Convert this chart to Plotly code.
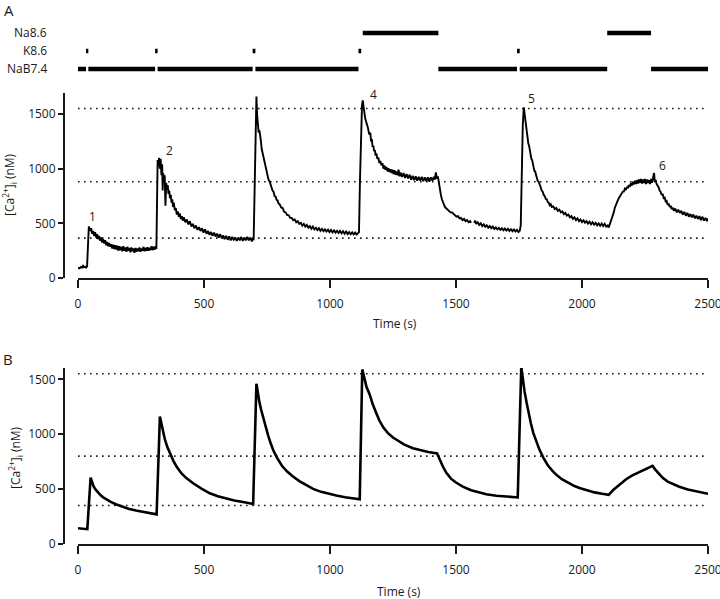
import plotly.graph_objects as go

# ---- data ----
# measured trace, panel A: (time s, [Ca2+]i nM); None = gap in the recording
trace_a = [
    (0, 95), (6, 88), (12, 102), (16, 96), (20, 112), (24, 98), (28, 104), (32, 95), (36, 106),
    (40, 300), (43, 472),
    (48, 430), (52, 455), (56, 405), (60, 430), (64, 385), (68, 420), (72, 370), (76, 400), (80, 355),
    (84, 385), (88, 340), (92, 370), (96, 325), (100, 355), (104, 315), (108, 345), (112, 300), (116, 330),
    (120, 290), (124, 320), (128, 285), (132, 310), (136, 270), (140, 305), (144, 265), (148, 300),
    (152, 260), (156, 295), (160, 250), (164, 290), (168, 255), (172, 285), (176, 245), (180, 290),
    (184, 250), (188, 280), (192, 240), (196, 285), (200, 250), (204, 275), (208, 235), (212, 280),
    (216, 245), (220, 270), (224, 230), (228, 275), (232, 240), (236, 270), (240, 245), (244, 280),
    (248, 240), (252, 270), (256, 250), (260, 285), (264, 245), (268, 275), (272, 250), (276, 280),
    (280, 250), (284, 275), (288, 255), (292, 290), (296, 255), (300, 285), (304, 260), (308, 290), (311, 265),
    (314, 700), (316, 1080), (319, 1020), (322, 1100), (325, 1000), (328, 1090), (331, 940), (334, 1040),
    (336, 800), (338, 960), (341, 900), (344, 940), (347, 660), (350, 870), (353, 810), (356, 850),
    (359, 770), (362, 800), (365, 730), (368, 760), (371, 690), (374, 720), (377, 650), (380, 690),
    (384, 620), (388, 640), (392, 580), (396, 610), (400, 560), (404, 590), (408, 540), (412, 565),
    (416, 525), (420, 555), (426, 510), (432, 535), (438, 490), (444, 520), (450, 470), (456, 495),
    (462, 455), (468, 480), (474, 440), (480, 465), (486, 430), (492, 455), (498, 415), (504, 445),
    (510, 405), (516, 430), (522, 395), (528, 420), (534, 385), (540, 415), (546, 380), (552, 405),
    (558, 370), (564, 400), (570, 365), (576, 390), (582, 355), (588, 385), (594, 350), (600, 380),
    (606, 345), (612, 375), (618, 350), (624, 370), (630, 340), (636, 370), (642, 345), (648, 375),
    (654, 340), (660, 370), (666, 345), (672, 375), (678, 345), (684, 370), (690, 335), (694, 365), (697, 345),
    (700, 700), (703, 1300), (706, 1560), (708, 1660), (711, 1480), (714, 1420), (717, 1330), (720, 1350),
    (723, 1260), (726, 1250), (729, 1180), (732, 1150), (736, 1095), (740, 1050), (744, 1010), (748, 960),
    (752, 945), (756, 900), (760, 885), (764, 850), (768, 840), (772, 800), (776, 790), (780, 750),
    (784, 745), (788, 715), (792, 710), (796, 680), (800, 675), (806, 645), (812, 640), (818, 605),
    (824, 600), (830, 575), (836, 575), (842, 550), (848, 550), (854, 530), (860, 535), (866, 510),
    (872, 520), (878, 495), (884, 505), (890, 480), (896, 495), (902, 470), (908, 485), (914, 460),
    (920, 475), (926, 450), (932, 470), (938, 445), (944, 460), (950, 438), (956, 455), (962, 432),
    (968, 450), (974, 428), (980, 445), (986, 425), (992, 442), (998, 420), (1004, 440), (1010, 418),
    (1016, 435), (1022, 415), (1028, 432), (1034, 412), (1040, 430), (1046, 408), (1052, 428), (1058, 405),
    (1064, 425), (1070, 402), (1076, 420), (1082, 400), (1088, 418), (1094, 398), (1100, 415), (1106, 398), (1112, 412),
    (1115, 420), (1119, 900), (1123, 1400), (1127, 1580), (1130, 1625), (1133, 1560), (1136, 1520),
    (1139, 1470), (1142, 1440), (1145, 1420), (1148, 1390), (1151, 1370), (1154, 1330), (1157, 1310),
    (1160, 1330), (1163, 1250), (1166, 1270), (1169, 1200), (1172, 1210), (1175, 1160), (1178, 1170),
    (1181, 1120), (1184, 1140), (1188, 1090), (1192, 1100), (1196, 1050), (1200, 1070), (1204, 1030),
    (1208, 1050), (1212, 1000), (1216, 1030), (1220, 990), (1224, 1015), (1228, 975), (1232, 1005),
    (1236, 970), (1240, 995), (1244, 960), (1248, 990), (1252, 950), (1256, 985), (1260, 945), (1264, 975),
    (1268, 940), (1272, 990), (1276, 930), (1280, 965), (1286, 925), (1292, 960), (1298, 915), (1304, 950),
    (1310, 910), (1316, 945), (1322, 900), (1328, 935), (1334, 895), (1340, 930), (1346, 890), (1352, 925),
    (1358, 890), (1364, 925), (1370, 885), (1376, 920), (1382, 885), (1388, 920), (1394, 880), (1400, 920),
    (1406, 890), (1412, 925), (1416, 900), (1420, 965), (1424, 910), (1428, 930),
    (1432, 860), (1436, 800), (1440, 760), (1444, 720), (1448, 690), (1452, 670), (1456, 650), (1460, 640),
    (1466, 625), (1472, 615), (1478, 600), (1484, 600), (1490, 585), (1496, 580), (1502, 560), (1508, 565),
    (1514, 545), (1520, 550), (1526, 530), (1532, 540), (1538, 520), (1544, 530), (1550, 510), (1556, 520),
    (1560, 505), (1566, None),
    (1572, 505), (1576, 525), (1580, 495), (1586, 510), (1592, 485), (1598, 500), (1604, 475), (1610, 490),
    (1616, 468), (1622, 482), (1628, 460), (1634, 475), (1640, 455), (1646, 470), (1652, 448), (1658, 462),
    (1664, 445), (1670, 458), (1676, 440), (1682, 455), (1688, 436), (1694, 452), (1700, 434), (1706, 450),
    (1712, 430), (1718, 446), (1724, 428), (1730, 444), (1736, 425), (1742, 440), (1748, 420), (1753, 432),
    (1757, 480), (1761, 1000), (1765, 1400), (1769, 1560), (1772, 1500), (1775, 1430), (1778, 1400),
    (1781, 1330), (1784, 1290), (1787, 1230), (1790, 1210), (1793, 1150), (1796, 1140), (1799, 1090),
    (1802, 1080), (1805, 1030), (1808, 1020), (1811, 980), (1814, 975), (1817, 940), (1820, 930),
    (1824, 890), (1828, 880), (1832, 840), (1836, 830), (1840, 800), (1844, 790), (1848, 760), (1852, 750),
    (1856, 725), (1860, 720), (1864, 695), (1868, 690), (1872, 665), (1876, 675), (1880, 650), (1886, 655),
    (1892, 630), (1898, 640), (1904, 615), (1910, 625), (1916, 600), (1922, 610), (1928, 585), (1934, 595),
    (1940, 570), (1946, 580), (1952, 555), (1958, 565), (1964, 540), (1970, 555), (1976, 530), (1982, 545),
    (1988, 520), (1994, 535), (2000, 512), (2006, 528), (2012, 505), (2018, 520), (2024, 498), (2030, 515),
    (2036, 492), (2042, 510), (2048, 488), (2054, 505), (2060, 482), (2066, 500), (2072, 478), (2078, 498),
    (2084, 475), (2090, 495), (2096, 470), (2102, 480), (2106, 462),
    (2110, 490), (2114, 510), (2118, 540), (2122, 560), (2126, 600), (2130, 640), (2134, 670), (2138, 690),
    (2142, 710), (2146, 730), (2150, 745), (2154, 765), (2158, 770), (2162, 790), (2166, 790), (2170, 815),
    (2174, 805), (2178, 835), (2182, 820), (2186, 850), (2190, 835), (2194, 870), (2198, 845), (2202, 880),
    (2206, 855), (2210, 890), (2214, 860), (2218, 895), (2222, 865), (2226, 900), (2230, 870), (2234, 905),
    (2238, 865), (2242, 900), (2246, 870), (2250, 905), (2254, 860), (2258, 900), (2262, 870), (2266, 895),
    (2270, 860), (2274, 905), (2278, 870), (2282, 920), (2286, 960), (2289, 880), (2292, 900), (2296, 860),
    (2300, 850), (2304, 830), (2308, 800), (2312, 790), (2316, 760), (2320, 770), (2324, 730), (2328, 735),
    (2332, 700), (2336, 705), (2340, 670), (2344, 680), (2348, 650), (2352, 660), (2356, 630), (2360, 645),
    (2364, 615), (2370, 635), (2376, 600), (2382, 625), (2388, 595), (2394, 615), (2400, 580), (2406, 605),
    (2412, 570), (2418, 595), (2424, 560), (2430, 585), (2436, 555), (2442, 580), (2448, 545), (2454, 570),
    (2460, 540), (2466, 565), (2472, 530), (2478, 560), (2484, 525), (2490, 550), (2496, 520), (2500, 545),
]

# model trace, panel B
trace_b = [
    (0, 143), (37, 135), (50, 605), (55, 565), (62, 525), (70, 495), (80, 465), (90, 443), (100, 425),
    (115, 403), (130, 383), (150, 362), (175, 341), (200, 322), (230, 305), (260, 290), (290, 278), (312, 270),
    (325, 1162), (330, 1100), (337, 1020), (345, 950), (355, 880), (365, 820), (378, 760), (391, 705),
    (410, 645), (430, 600), (457, 553), (490, 505), (523, 462), (555, 435), (589, 414), (620, 396),
    (660, 380), (695, 365),
    (708, 1460), (713, 1380), (720, 1290), (727, 1220), (735, 1150), (745, 1060), (755, 985), (765, 915),
    (774, 858), (790, 785), (810, 710), (830, 660), (853, 614), (880, 570), (905, 535), (933, 502),
    (965, 475), (995, 455), (1025, 441), (1060, 425), (1090, 415), (1118, 407),
    (1128, 1590), (1135, 1520), (1145, 1430), (1157, 1365), (1170, 1270), (1185, 1185), (1197, 1120),
    (1212, 1060), (1230, 1010), (1250, 970), (1270, 938), (1295, 905), (1329, 873), (1360, 852),
    (1390, 838), (1425, 825),
    (1435, 770), (1447, 710), (1461, 650), (1480, 595), (1500, 560), (1527, 523), (1560, 490),
    (1590, 470), (1620, 453), (1660, 440), (1700, 432), (1745, 424),
    (1759, 1612), (1765, 1500), (1772, 1390), (1780, 1290), (1788, 1190), (1797, 1100), (1807, 1010),
    (1818, 940), (1831, 860), (1848, 780), (1865, 715), (1882, 668), (1897, 632), (1920, 590),
    (1945, 555), (1970, 528), (1990, 510), (2020, 488), (2050, 470), (2080, 457), (2106, 448),
    (2125, 495), (2148, 540), (2175, 590), (2200, 625), (2230, 660), (2255, 688), (2280, 712),
    (2290, 680), (2305, 640), (2320, 602), (2340, 568), (2365, 540), (2386, 522), (2420, 497),
    (2455, 478), (2480, 466), (2500, 457),
]

ref_levels_a = [1550, 880, 365]
ref_levels_b = [1550, 800, 350]
time_span = [0, 2500]
time_ticks = [0, 500, 1000, 1500, 2000, 2500]
ca_ticks = [0, 500, 1000, 1500]

# response labels on panel A: (label, time, nM)
peak_labels = [("1", 59, 558), ("2", 365, 1166), ("3", 744, 1699),
               ("4", 1173, 1681), ("5", 1800, 1638), ("6", 2319, 1028)]

# perfusion protocol (start s, end s)
solutions = ["Na8.6", "K8.6", "NaB7.4"]
na86 = [(1130, 1430), (2100, 2274)]
k86 = [(32, 41), (306, 316), (693, 704), (1113, 1124), (1742, 1753)]
nab74 = [(0, 32), (41, 306), (316, 693), (704, 1113), (1430, 1742), (1753, 2100), (2274, 2500)]

W, H = 720, 599
def px(x):
    return x / W
def py(y):
    return 1 - y / H

FONT = "Open Sans, Lato, sans-serif"
INK = "#1a1a1a"

fig = go.Figure()

# reference dotted levels
for lvl in ref_levels_a:
    fig.add_trace(go.Scatter(x=time_span, y=[lvl, lvl], mode="lines", xaxis="x", yaxis="y",
                             line=dict(color=INK, width=1.6, dash="1.6px,4.4px")))
for lvl in ref_levels_b:
    fig.add_trace(go.Scatter(x=time_span, y=[lvl, lvl], mode="lines", xaxis="x2", yaxis="y2",
                             line=dict(color=INK, width=1.6, dash="1.6px,4.4px")))

fig.add_trace(go.Scatter(x=[p[0] for p in trace_a], y=[p[1] for p in trace_a], mode="lines",
                         xaxis="x", yaxis="y", connectgaps=False,
                         line=dict(color="black", width=1.9)))
fig.add_trace(go.Scatter(x=[p[0] for p in trace_b], y=[p[1] for p in trace_b], mode="lines",
                         xaxis="x2", yaxis="y2", line=dict(color="black", width=2.6)))

# protocol bars
for sol, periods in zip(solutions, [na86, k86, nab74]):
    xs, ys = [], []
    for s, e in periods:
        xs += [s, e, None]
        ys += [sol, sol, None]
    fig.add_trace(go.Scatter(x=xs, y=ys, mode="lines", xaxis="x3", yaxis="y3",
                             line=dict(color="black", width=4.5)))

# automargin off: the last "2500" label pokes past the right edge (cut, as in the
# original) and must not make plotly shrink the plot area to fit it
axis_common = dict(showgrid=False, zeroline=False, showline=True, linecolor=INK, linewidth=2,
                   ticks="outside", tickcolor=INK, tickwidth=2, automargin=False,
                   tickfont=dict(family=FONT, size=12, color=INK))
x_dom = [px(78), px(708)]

fig.update_layout(
    width=W, height=H,
    margin=dict(l=0, r=0, t=0, b=0, autoexpand=False),
    paper_bgcolor="white", plot_bgcolor="white",
    showlegend=False,
    font=dict(family=FONT, size=12, color=INK),
    xaxis=dict(domain=x_dom, range=time_span, anchor="y", tickvals=time_ticks,
               ticklen=8, ticklabelstandoff=6, ticklabeloverflow="allow", **axis_common),
    yaxis=dict(domain=[py(278), py(93)], range=[0, 1692], anchor="free", position=px(64),
               tickvals=ca_ticks, ticklen=5, **axis_common),
    xaxis2=dict(domain=x_dom, range=time_span, anchor="y2", tickvals=time_ticks,
                ticklen=8, ticklabelstandoff=6, ticklabeloverflow="allow", **axis_common),
    yaxis2=dict(domain=[py(544), py(368)], range=[0, 1603], anchor="free", position=px(64),
                tickvals=ca_ticks, ticklen=5, **axis_common),
    xaxis3=dict(domain=x_dom, range=time_span, anchor="y3", visible=False, automargin=False),
    yaxis3=dict(domain=[py(78), py(24)], type="category", categoryorder="array",
                categoryarray=solutions[::-1], range=[-0.5, 2.5], anchor="x3", automargin=False,
                showgrid=False, zeroline=False, showline=False, ticks="", showticklabels=False),
)

txt = dict(family=FONT, size=12, color=INK)
ann = []
for lab, t, v in peak_labels:
    ann.append(dict(x=t, y=v, xref="x", yref="y", text=lab, showarrow=False, font=txt,
                    xanchor="center", yanchor="middle"))
# solution names, right aligned next to their protocol bars
for sol in solutions:
    ann.append(dict(x=px(49), y=sol, xref="paper", yref="y3", text=sol, showarrow=False,
                    font=txt, xanchor="right", yanchor="middle"))
ylab = "[Ca<sup>2+</sup>]<sub>i</sub> (nM)"
ann += [
    dict(x=px(2), y=py(10), text="A", xanchor="left", font=dict(family=FONT, size=15, color=INK)),
    dict(x=px(1), y=py(359), text="B", xanchor="left", font=dict(family=FONT, size=15, color=INK)),
    dict(x=px(9), y=py(185), text=ylab, textangle=-90, xanchor="center", font=txt),
    dict(x=px(15), y=py(458), text=ylab, textangle=-90, xanchor="center", font=txt),
    dict(x=px(395), y=py(324), text="Time (s)", xanchor="center", font=txt),
    dict(x=px(399), y=py(591), text="Time (s)", xanchor="center", font=txt),
]
for a in ann[-6:]:
    a.update(xref="paper", yref="paper", showarrow=False, yanchor="middle")
fig.update_layout(annotations=ann)

# drop the default 8px body margin and clip anything that pokes past the figure
page_css = (
    "document.body.style.margin='0';"
    "document.body.style.overflow='hidden';"
    "document.documentElement.style.overflow='hidden';"
    "var gd=document.getElementById('{plot_id}');"
    "gd.style.overflow='hidden';"
)
fig.write_html("out.html", config={"displayModeBar": False}, post_script=page_css)
